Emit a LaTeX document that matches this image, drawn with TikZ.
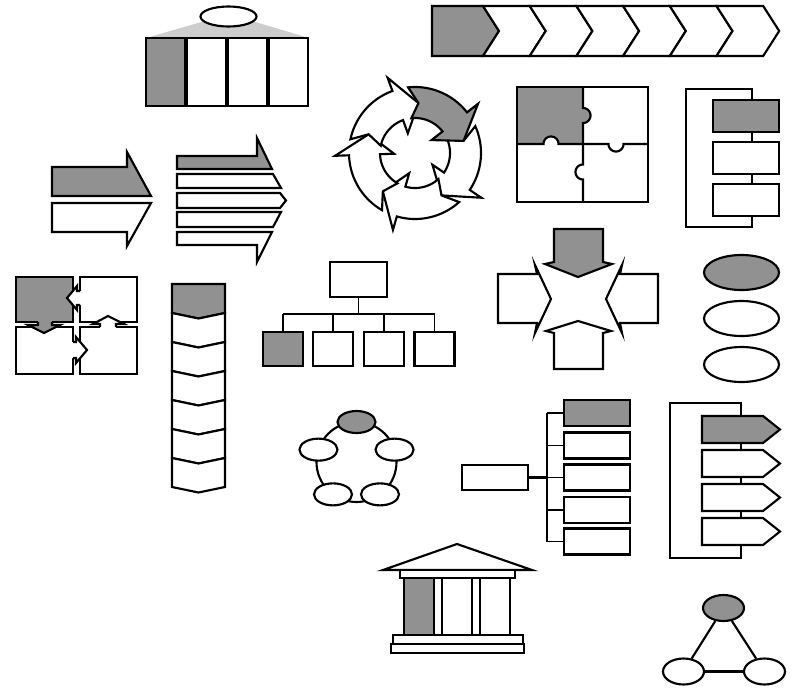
\documentclass[tikz,border=0pt]{standalone}
\usepackage{tikz}
\usetikzlibrary{shapes.geometric}
\definecolor{midgray}{RGB}{145,145,145}
\definecolor{palegray}{RGB}{205,205,205}

\begin{document}
\begin{tikzpicture}[x=0.75pt, y=-0.75pt, line width=1.6pt, line join=miter,
  box/.style={draw, rectangle, fill=white, inner sep=0pt},
  oval/.style={draw, ellipse, fill=white, inner sep=0pt},
  wire/.style={line width=1.1pt}]

\useasboundingbox (0,0) rectangle (793,690);

% --- 1. ROOF WITH FOUR PANELS (top left) ---
\fill[palegray] (205,21) -- (252,21) -- (309,38) -- (146,38) -- cycle;
\fill[palegray] (146,38) rectangle (309,106);
\foreach \xl/\col in {146/midgray, 187/white, 228/white, 269/white}
    \filldraw[fill=\col] (\xl,38) rectangle (\xl+39,106);
\node[oval, minimum width=42pt, minimum height=15pt] (hub) at (228.5,16.5) {};

% --- 2. CHEVRON BAR (top right) ---
\filldraw[fill=midgray] (432,6) -- (483,6) -- (499,31) -- (483,56) -- (432,56) -- cycle;
\foreach \i in {0,...,5} {
    \pgfmathsetmacro\xl{483+\i*46.7}
    \filldraw[fill=white] (\xl,6) -- (\xl+46.7,6) -- (\xl+62.7,31)
        -- (\xl+46.7,56) -- (\xl,56) -- (\xl+16,31) -- cycle;
}

% --- 3. CYCLE OF FIVE ARROWS ---
\begin{scope}[shift={(415,153)}]
    \foreach \tip/\col in {58/white, 130/white, 202/white, 274/white, -14/midgray}
        \filldraw[fill=\col]
            plot[domain=\tip-82:\tip-24, samples=30] (\x:66)
            -- (\tip-24:80) -- (\tip:50) -- (\tip-24:21)
            -- plot[domain=\tip-24:\tip-82, samples=30] (\x:35)
            -- (\tip-72:50) -- cycle;
\end{scope}

% --- 4. PUZZLE ---
\fill[white] (517,87) rectangle (648,202);
\fill[midgray] (517,87) rectangle (583,144);
\fill[midgray] plot[domain=-90:90, samples=25] ({583+7.5*cos(\x)},{115.5+7.5*sin(\x)}) -- cycle;
\fill[white] plot[domain=180:360, samples=25] ({551+7.5*cos(\x)},{144+7.5*sin(\x)}) -- cycle;
\draw (517,87) rectangle (648,202);
\draw (583,87) -- (583,108)
    -- plot[domain=-90:90, samples=25] ({583+7.5*cos(\x)},{115.5+7.5*sin(\x)})
    -- (583,164.5)
    -- plot[domain=270:90, samples=25] ({583+7.5*cos(\x)},{172+7.5*sin(\x)})
    -- (583,202);
\draw (517,144) -- (543.5,144)
    -- plot[domain=180:360, samples=25] ({551+7.5*cos(\x)},{144+7.5*sin(\x)})
    -- (608.5,144)
    -- plot[domain=180:0, samples=25] ({616+7.5*cos(\x)},{144+7.5*sin(\x)})
    -- (648,144);

% --- 5. BRACKET WITH THREE BOXES ---
\filldraw[fill=white] (686,89) rectangle (752,227);
\foreach \yt/\col in {100/midgray, 142/white, 184/white}
    \filldraw[fill=\col] (713,\yt) rectangle (779,\yt+32);

% --- 6. SPLIT ARROW ---
\filldraw[fill=midgray] (52,167) -- (127,167) -- (127,152) -- (151,196) -- (52,196) -- cycle;
\filldraw[fill=white] (52,203) -- (151,203) -- (127,246) -- (127,232) -- (52,232) -- cycle;

% --- 7. ARROW OF FIVE STRIPS ---
\filldraw[fill=midgray] (177,156) -- (257,156) -- (257,138) -- (272,169) -- (177,169) -- cycle;
\filldraw[fill=white] (177,174) -- (273,174) -- (281,188) -- (177,188) -- cycle;
\filldraw[fill=white] (177,193) -- (280,193) -- (286,200.5) -- (280,208) -- (177,208) -- cycle;
\filldraw[fill=white] (177,212) -- (281,212) -- (273,227) -- (177,227) -- cycle;
\filldraw[fill=white] (177,232) -- (272,232) -- (257,262) -- (257,245) -- (177,245) -- cycle;

% --- 8. FOUR SQUARES PASSING ARROWS ---
\filldraw[fill=midgray] (16,277) rectangle (73,322);
\filldraw[fill=white] (80,277) rectangle (137,322);
\filldraw[fill=white] (16,327) rectangle (73,374);
\filldraw[fill=white] (80,327) rectangle (137,374);
% arrow tips over the neighbours
\fill[midgray] (38,320) -- (38,325) -- (28,325) -- (44,333) -- (60,325) -- (52,325) -- (52,320) -- cycle;
\draw (38,322) -- (38,325) -- (28,325) -- (44,333) -- (60,325) -- (52,325) -- (52,322);
\fill[white] (82,291) -- (77,291) -- (77,286) -- (67,298) -- (77,310) -- (77,305) -- (82,305) -- cycle;
\draw (80,291) -- (77,291) -- (77,286) -- (67,298) -- (77,310) -- (77,305) -- (80,305);
\fill[white] (71,342) -- (76,342) -- (76,337) -- (87,350) -- (76,363) -- (76,358) -- (71,358) -- cycle;
\draw (73,342) -- (76,342) -- (76,337) -- (87,350) -- (76,363) -- (76,358) -- (73,358);
\fill[white] (100,329) -- (100,324) -- (93,324) -- (108,316) -- (124,324) -- (116,324) -- (116,329) -- cycle;
\draw (100,327) -- (100,324) -- (93,324) -- (108,316) -- (124,324) -- (116,324) -- (116,327);

% --- 9. VERTICAL CHEVRON STACK ---
\filldraw[fill=midgray] (172,284) -- (225,284) -- (225,313) -- (198.5,318.5) -- (172,313) -- cycle;
\foreach \i in {0,...,5} {
    \pgfmathsetmacro\ys{313+\i*29}
    \filldraw[fill=white] (172,\ys) -- (198.5,\ys+5.5) -- (225,\ys) -- (225,\ys+29)
        -- (198.5,\ys+34.5) -- (172,\ys+29) -- cycle;
}

% --- 10. ORGANISATION CHART ---
\node[box, minimum width=42.75pt, minimum height=26.25pt] (boss) at (358.5,279.5) {};
\node[box, fill=midgray, minimum width=30pt, minimum height=25.5pt] (ob1) at (283,349) {};
\node[box, minimum width=30pt, minimum height=25.5pt] (ob2) at (333,349) {};
\node[box, minimum width=30pt, minimum height=25.5pt] (ob3) at (384,349) {};
\node[box, minimum width=30pt, minimum height=25.5pt] (ob4) at (434.5,349) {};
\coordinate (bus) at (358.5,314);
\draw[wire] (boss.south) -- (bus);
\draw[wire] (bus -| ob1) -- (bus -| ob4);
\foreach \i in {1,...,4}
    \draw[wire] (ob\i.north) -- (ob\i.north |- bus);

% --- 11. FOUR ARROWS MEETING ---
\filldraw[fill=midgray] (554,229) -- (603,229) -- (603,262) -- (612,264) -- (578,277) -- (545,264) -- (554,262) -- cycle;
\filldraw[fill=white] (498,274) -- (537,274) -- (535,265) -- (551,299) -- (535,333) -- (537,323) -- (498,323) -- cycle;
\filldraw[fill=white] (658,274) -- (620,274) -- (622,265) -- (606,299) -- (622,333) -- (620,323) -- (658,323) -- cycle;
\filldraw[fill=white] (554,369) -- (554,333) -- (546,331) -- (578,321) -- (611,331) -- (603,333) -- (603,369) -- cycle;

% --- 12. THREE OVALS ---
\node[oval, fill=midgray, minimum width=56.25pt, minimum height=26.25pt] (ov1) at (741.5,272.5) {};
\node[oval, minimum width=56.25pt, minimum height=26.25pt] (ov2) at (741.5,318.5) {};
\node[oval, minimum width=56.25pt, minimum height=26.25pt] (ov3) at (741.5,364.5) {};

% --- 13. RING OF FIVE OVALS ---
\begin{scope}[shift={(356.5,462)}]
    \draw (0,0) circle (40);
    \node[oval, fill=midgray, minimum width=28.5pt, minimum height=16.5pt] (rp1) at (-90:40) {};
    \node[oval, minimum width=28.5pt, minimum height=16.5pt] (rp2) at (-18:40) {};
    \node[oval, minimum width=28.5pt, minimum height=16.5pt] (rp3) at (54:40) {};
    \node[oval, minimum width=28.5pt, minimum height=16.5pt] (rp4) at (126:40) {};
    \node[oval, minimum width=28.5pt, minimum height=16.5pt] (rp5) at (198:40) {};
\end{scope}

% --- 14. HORIZONTAL TREE ---
\node[box, minimum width=49.5pt, minimum height=18.75pt] (root) at (495,477.5) {};
\node[box, fill=midgray, minimum width=49.5pt, minimum height=19.5pt] (leaf1) at (597,413) {};
\node[box, minimum width=49.5pt, minimum height=19.5pt] (leaf2) at (597,445.5) {};
\node[box, minimum width=49.5pt, minimum height=19.5pt] (leaf3) at (597,477.5) {};
\node[box, minimum width=49.5pt, minimum height=19.5pt] (leaf4) at (597,510) {};
\node[box, minimum width=49.5pt, minimum height=19.5pt] (leaf5) at (597,541.5) {};
\coordinate (spine) at (547,477.5);
\draw (root.east) -- (spine);
\draw[wire] (leaf1.west -| spine) -- (leaf5.west -| spine);
\foreach \i in {1,...,5}
    \draw[wire] (leaf\i.west) -- (leaf\i.west -| spine);

% --- 15. BRACKET WITH FOUR TAGS ---
\filldraw[fill=white] (670,403) rectangle (741,558);
\foreach \yt/\col in {416/midgray, 450/white, 484/white, 518/white}
    \filldraw[fill=\col] (702,\yt) -- (763,\yt) -- (780,\yt+13.5) -- (763,\yt+27) -- (702,\yt+27) -- cycle;

% --- 16. TEMPLE ---
\filldraw[fill=white] (383,570) -- (457,544) -- (532,570) -- cycle;
\filldraw[fill=white] (400,570) rectangle (515,578);
\filldraw[fill=midgray] (404,578) rectangle (434,635);
\foreach \xl/\xr in {434/442, 442/472, 472/480, 480/510}
    \filldraw[fill=white] (\xl,578) rectangle (\xr,635);
\filldraw[fill=white] (393,635) rectangle (523,644);
\filldraw[fill=white] (391,644) rectangle (524,653);

% --- 17. TRIANGLE OF OVALS ---
\node[oval, fill=midgray, minimum width=30.75pt, minimum height=19.5pt] (apex) at (723.5,608) {};
\node[oval, minimum width=30.75pt, minimum height=19.5pt] (foot1) at (683.5,671.5) {};
\node[oval, minimum width=30.75pt, minimum height=19.5pt] (foot2) at (764.5,671.5) {};
\draw (apex) -- (foot1);
\draw (foot1) -- (foot2);
\draw (foot2) -- (apex);

\end{tikzpicture}
\end{document}
